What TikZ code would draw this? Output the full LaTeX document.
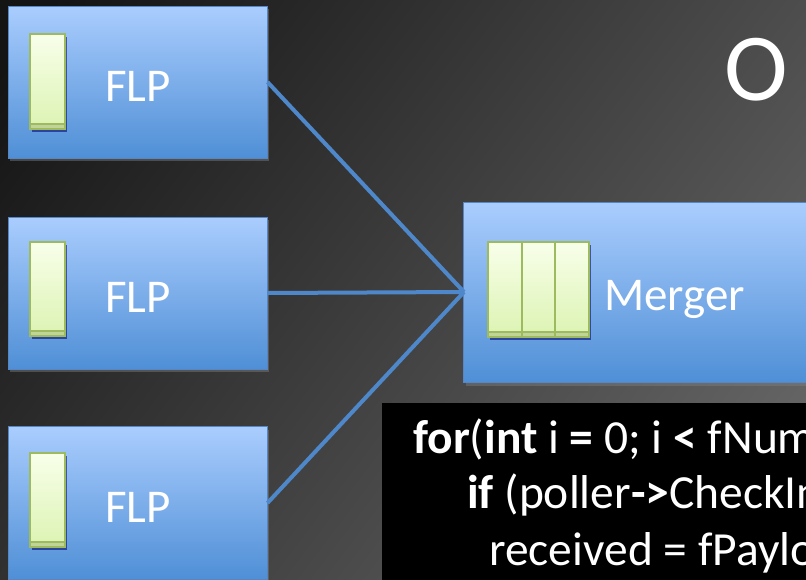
\documentclass[tikz,border=0pt]{standalone}
\usepackage{fontspec}
\setmainfont{Carlito}
\usetikzlibrary{shadows}

\definecolor{bgdark}{HTML}{141414}
\definecolor{bglight}{HTML}{6A6A6A}
\definecolor{boxtop}{HTML}{AACDFE}
\definecolor{boxbot}{HTML}{4F8FD6}
\definecolor{boxline}{HTML}{5686C4}
\definecolor{wire}{HTML}{4F88CA}
\definecolor{bartop}{HTML}{F8FFEA}
\definecolor{barbot}{HTML}{DCF3B2}
\definecolor{barline}{HTML}{9DBB5E}
\definecolor{barfoot}{HTML}{C0D398}

\tikzset{
  stagebox/.style={draw=boxline, line width=1pt, top color=boxtop, bottom color=boxbot,
    drop shadow={opacity=0.45, shadow xshift=2pt, shadow yshift=-3pt}},
  bufbar/.style={draw=barline, line width=1.8pt, top color=bartop, bottom color=barbot,
    drop shadow={opacity=0.55, shadow xshift=1.5pt, shadow yshift=-3pt, fill=black!60!blue}},
  barfootstrip/.style={draw=barline, line width=1.2pt, fill=barfoot},
  wirestyle/.style={draw=wire, line width=4pt},
  label/.style={text=white, font=\fontsize{47}{50}\selectfont, inner sep=0pt},
  codetext/.style={text=white, font=\fontsize{47.5}{50}\selectfont, inner sep=0pt, anchor=base west},
}

\begin{document}
\begin{tikzpicture}[x=1pt, y=-1pt]
  \useasboundingbox (0,0) rectangle (806,579);
  \begin{scope}
    \clip (0,0) rectangle (806,579);
    % slide background
    \shade[top color=bgdark, bottom color=bglight, shading angle=53]
      (-100,-100) rectangle (906,679);

    % slide title (partly off the right edge)
    \node[text=white, font=\fontsize{96}{98}\selectfont, inner sep=0pt, anchor=base west]
      (title) at (724,100) {O};

    % three FLP stages
    \node[stagebox, minimum width=259pt, minimum height=152pt, inner sep=0pt]
      (flpA) at (137.5,82) {};
    \node[stagebox, minimum width=259pt, minimum height=152pt, inner sep=0pt]
      (flpB) at (137.5,293) {};
    \node[stagebox, minimum width=259pt, minimum height=153pt, inner sep=0pt]
      (flpC) at (137.5,503) {};

    % merger stage
    \node[stagebox, minimum width=380pt, minimum height=180pt, inner sep=0pt, anchor=north west]
      (merger) at (463,202) {};

    % connections into the merger
    \coordinate (mergein) at (464,292);
    \draw[wirestyle] (flpA.east) -- (mergein);
    \draw[wirestyle] (flpB.east) -- (mergein);
    \draw[wirestyle] (flpC.east) -- (mergein);

    % buffers of the FLP stages
    \foreach \n/\top/\bot in {A/34/129, B/242/336, C/453/547}{
      \path[bufbar] (30,\top) rectangle (65,\bot);
      \path[barfootstrip] (30,\bot-5) rectangle (65,\bot);
      \draw[barline, line width=1.8pt] (30,\top) rectangle (65,\bot);
    }

    % buffers of the merger
    \foreach \l/\r in {488/522, 522/555, 555/589}{
      \path[bufbar] (\l,242) rectangle (\r,337);
      \path[barfootstrip] (\l,332) rectangle (\r,337);
      \draw[barline, line width=1.8pt] (\l,242) rectangle (\r,337);
    }

    % stage labels
    \node[label] (flpAtext) at (138,86) {FLP};
    \node[label] (flpBtext) at (138,297) {FLP};
    \node[label] (flpCtext) at (138,507) {FLP};
    \node[label, anchor=base west] (mergertext) at (604,310) {Merger};

    % code listing
    \node[fill=black, minimum width=440pt, minimum height=190pt, anchor=north west, inner sep=0pt]
      (codebox) at (382,403) {};
    \node[codetext] (codeA) at (413,453)
      {\textbf{for}(\textbf{int} i \textbf{=} 0; i \textbf{<} fNumInputs; i++) \{};
    \node[codetext] (codeB) at (467,508)
      {\textbf{if} (poller\textbf{->}CheckInput(i)) \{};
    \node[codetext] (codeC) at (489,565)
      {received = fPayloadInputs};
  \end{scope}
\end{tikzpicture}
\end{document}
